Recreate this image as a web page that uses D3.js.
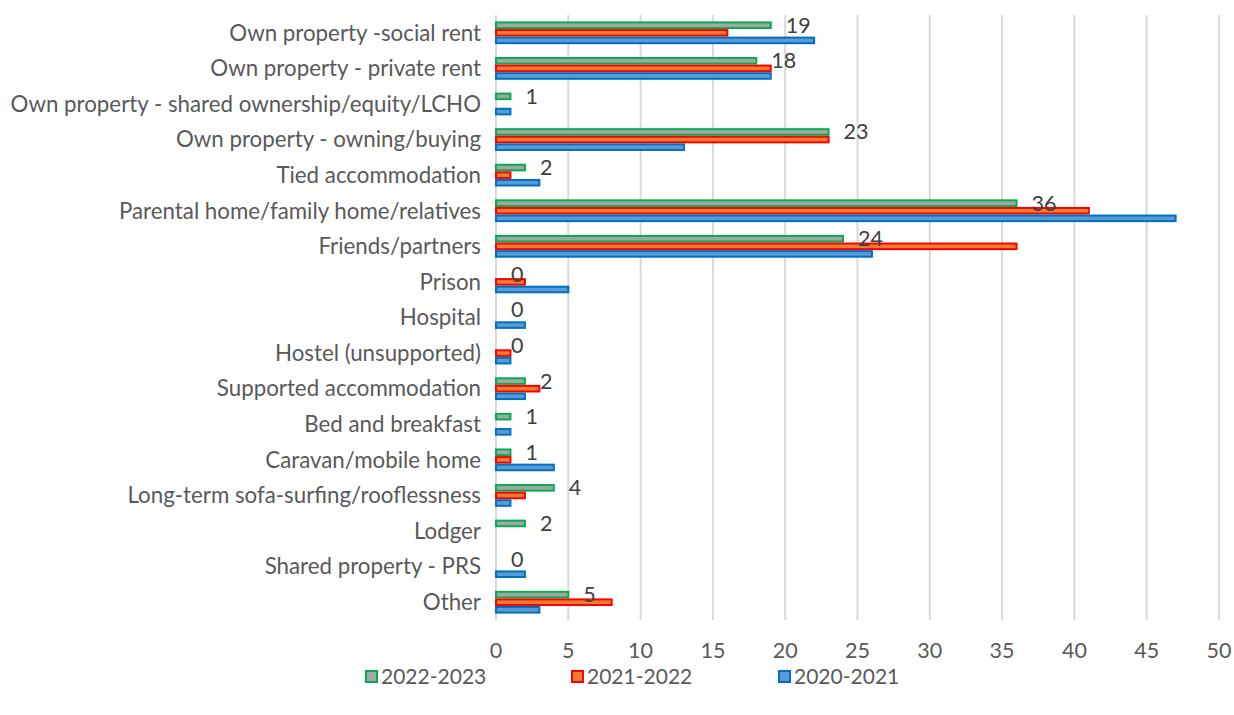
<!DOCTYPE html>
<html>
<head>
<meta charset="utf-8">
<script src="https://cdn.jsdelivr.net/npm/d3@7"></script>
<style>
  body { margin: 0; background: #fff; }
  svg { display: block; font-family: Lato, "Open Sans", sans-serif; }
</style>
</head>
<body>
<svg id="chart" width="1234" height="715"></svg>
<script>
// categories, top to bottom
const categories = [
  "Own property -social rent",
  "Own property - private rent",
  "Own property - shared ownership/equity/LCHO",
  "Own property - owning/buying",
  "Tied accommodation",
  "Parental home/family home/relatives",
  "Friends/partners",
  "Prison",
  "Hospital",
  "Hostel (unsupported)",
  "Supported accommodation",
  "Bed and breakfast",
  "Caravan/mobile home",
  "Long-term sofa-surfing/rooflessness",
  "Lodger",
  "Shared property - PRS",
  "Other"
];
const seriesNames = ["2022-2023", "2021-2022", "2020-2021"];
const values2022 = [19, 18, 1, 23, 2, 36, 24, 0, 0, 0, 2, 1, 1, 4, 2, 0, 5];
const values2021 = [16, 19, 0, 23, 1, 41, 36, 2, 0, 1, 3, 0, 1, 2, 0, 0, 8];
const values2020 = [22, 19, 1, 13, 3, 47, 26, 5, 2, 1, 2, 1, 4, 1, 0, 2, 3];
const xTicks = [0, 5, 10, 15, 20, 25, 30, 35, 40, 45, 50];

const fills = ["#A5A5A5", "#ED7D31", "#5B9BD5"];
const strokes = ["#00B050", "#FF0000", "#0070C0"];
const allValues = [values2022, values2021, values2020];

const svg = d3.select("#chart");
const margin = {left: 496, right: 15, top: 15, bottom: 95};
const W = 1234, H = 715;

const x = d3.scaleLinear().domain([0, 50]).range([margin.left, 1219]);
const y = d3.scaleBand().domain(categories)
  .range([margin.top, H - margin.bottom])
  .paddingInner(0.36).paddingOuter(0.18);
const ySub = d3.scaleBand().domain(seriesNames).range([0, y.bandwidth()]);

// gridlines
svg.append("g").selectAll("line").data(xTicks).join("line")
  .attr("x1", d => x(d)).attr("x2", d => x(d))
  .attr("y1", margin.top).attr("y2", H - margin.bottom)
  .attr("stroke", "#D9D9D9").attr("stroke-width", 2);

// x tick labels
svg.append("g").selectAll("text").data(xTicks).join("text")
  .attr("x", d => x(d)).attr("y", 650).attr("dy", "0.35em")
  .attr("text-anchor", "middle")
  .attr("fill", "#595959").attr("font-size", 21.5)
  .text(d => d);

// category labels
svg.append("g").selectAll("text").data(categories).join("text")
  .attr("x", margin.left - 15)
  .attr("y", d => y(d) + y.bandwidth() / 2)
  .attr("dy", "0.35em")
  .attr("text-anchor", "end")
  .attr("fill", "#595959").attr("font-size", 22.3)
  .text(d => d);

// bars
seriesNames.forEach((s, si) => {
  const data = categories.map((c, i) => ({c, v: allValues[si][i]})).filter(d => d.v > 0);
  svg.append("g").selectAll("rect").data(data).join("rect")
    .attr("x", x(0))
    .attr("y", d => y(d.c) + ySub(s) + 1)
    .attr("width", d => x(d.v) - x(0))
    .attr("height", ySub.bandwidth() - 2)
    .attr("fill", fills[si])
    .attr("stroke", strokes[si])
    .attr("stroke-width", 2);
});

// data labels for 2022-2023
svg.append("g").selectAll("text").data(categories).join("text")
  .attr("x", (d, i) => x(values2022[i]) + 15)
  .attr("y", d => y(d) + ySub(seriesNames[0]) + ySub.bandwidth() / 2)
  .attr("dy", "0.35em")
  .attr("fill", "#404040").attr("font-size", 21.5)
  .text((d, i) => values2022[i]);

// legend
const legendX = [365, 571, 778];
const legend = svg.append("g").selectAll("g").data(seriesNames).join("g")
  .attr("transform", (d, i) => `translate(${legendX[i]},677)`);
legend.append("rect")
  .attr("x", 1).attr("y", -6).attr("width", 11).attr("height", 11)
  .attr("fill", (d, i) => fills[i])
  .attr("stroke", (d, i) => strokes[i]).attr("stroke-width", 2);
legend.append("text")
  .attr("x", 16).attr("y", 0).attr("dy", "0.35em")
  .attr("fill", "#595959").attr("font-size", 21)
  .text(d => d);
</script>
</body>
</html>
